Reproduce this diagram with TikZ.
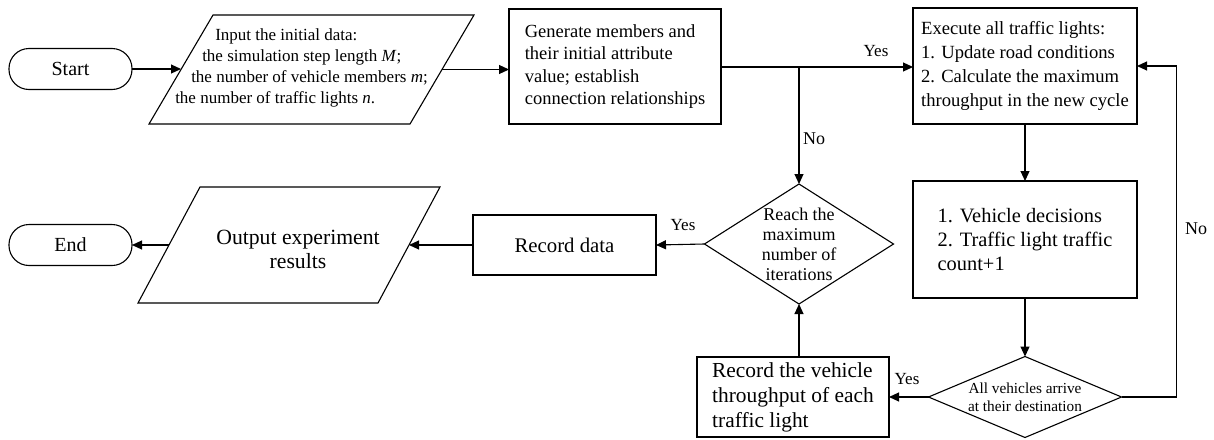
\documentclass[tikz,border=0pt]{standalone}
\usepackage{fontspec}
\setmainfont{Liberation Serif}
\usetikzlibrary{shapes.geometric,arrows.meta,calc}
\newcommand{\fsz}[2]{\fontsize{#1}{#2}\selectfont}
\begin{document}
\begin{tikzpicture}[x=1pt,y=-1pt,
  every node/.style={inner sep=0pt, outer sep=0pt},
  line/.style={line width=1.1pt},
  arr/.style={line, -{Triangle[length=10pt,width=9pt]}},
  term/.style={draw, line width=1.1pt, rounded corners=20pt, minimum width=123pt, minimum height=41pt, font=\fsz{20}{24}},
  box/.style={draw, line width=1.1pt, align=left},
  dia/.style={draw, line width=1.1pt, diamond},
  lab/.style={font=\fsz{17}{20}}
]
\fill[white] (0,0) rectangle (1214,439);
\useasboundingbox (0,0) rectangle (1214,439);

\node[term] (start) at (70.5,69) {Start};
% input parallelogram: node spans the mid-height width
\node[minimum width=261pt, minimum height=109pt] (input) at (311.5,69.5) {};
\draw[line] ($(input.south west)+(-32,0)$) -- ($(input.north west)+(32,0)$) -- ($(input.north east)+(32,0)$) -- ($(input.south east)+(-32,0)$) -- cycle;
\node[align=left, font=\fsz{17}{21}] (inputtxt) at (301.5,68) {\hspace*{40pt}Input the initial data:\\\hspace*{27pt}the simulation step length \textit{M};\\\hspace*{16pt}the number of vehicle members \textit{m};\\the number of traffic lights \textit{n}.};
\node[box, minimum width=212pt, minimum height=115pt, font=\fsz{18.5}{22.5}] (gen) at (615,66.5) {Generate members and\\their initial attribute\\value; establish\\connection relationships};
\node[box, minimum width=224pt, minimum height=116pt, font=\fsz{18.6}{24}] (exec) at (1025,66) {Execute all traffic lights:\\1. Update road conditions\\2. Calculate the maximum\\throughput in the new cycle};
\node[box, minimum width=224pt, minimum height=117pt, font=\fsz{20.4}{24}] (veh) at (1025,239.5) {1. Vehicle decisions\\2. Traffic light traffic\\count+1};
\node[dia, minimum width=193pt, minimum height=81pt, label={[align=center, font=\fsz{15.3}{18}]center:All vehicles arrive\\at their destination}] (d2) at (1025,397) {};
\node[box, minimum width=192pt, minimum height=80pt, font=\fsz{21.4}{25}] (rt) at (793,397) {Record the vehicle\\throughput of each\\traffic light};
\node[dia, minimum width=189pt, minimum height=120pt, label={[align=center, font=\fsz{18}{20}]center:Reach the\\maximum\\number of\\iterations}] (d1) at (799,244) {};
\node[box, minimum width=183pt, minimum height=60pt, font=\fsz{20.8}{24}] (rd) at (564.5,245) {Record data};
% output parallelogram
\node[minimum width=240pt, minimum height=116pt] (out) at (289,245) {};
\draw[line] ($(out.south west)+(-31,0)$) -- ($(out.north west)+(31,0)$) -- ($(out.north east)+(31,0)$) -- ($(out.south east)+(-31,0)$) -- cycle;
\node[align=center, font=\fsz{21.7}{24}] (outtxt) at (298,249.5) {Output experiment\\results};
\node[term] (end) at (70.5,245) {End};

\coordinate (j) at (799,67);
\draw[arr] (start.east) -- (start.east -| input.west);
\draw[arr] (input.east) -- (input.east -| gen.west);
\draw[arr] (gen.east |- j) -- (j -| exec.west);
\draw[arr] (j) -- (d1.north);
\draw[arr] (exec.south) -- (veh.north);
\draw[arr] (veh.south) -- (d2.north);
\draw[arr] (d2.east) -- ++(55,0) |- (exec.east);
\draw[arr] (d2.west) -- (rt.east);
\draw[arr] (d1.south |- rt.north) -- (d1.south);
\draw[arr] (d1.west) -- (rd.east);
\draw[arr] (rd.west) -- (out.east);
\draw[arr] (out.west) -- (end.east);

\node[lab] (yes1) at (876,51) {Yes};
\node[lab, font=\fsz{18}{20}] (no1) at (814,139) {No};
\node[lab, font=\fsz{18}{20}] (no2) at (1196,229) {No};
\node[lab] (yes2) at (907,379) {Yes};
\node[lab] (yes3) at (683,225) {Yes};
\end{tikzpicture}
\end{document}
